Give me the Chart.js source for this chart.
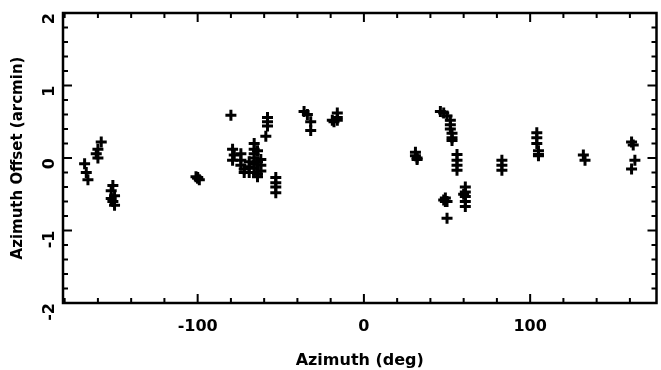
<!DOCTYPE html>
<html>
<head>
<meta charset="utf-8">
<script src="https://cdn.jsdelivr.net/npm/chart.js@4"></script>
<style>
  html, body { margin: 0; padding: 0; background: #fff; overflow: hidden; }
  #wrap { width: 661px; height: 370px; overflow: hidden; }
</style>
</head>
<body>
<div id="wrap"><canvas id="myChart" width="665" height="370"></canvas></div>
<script>
// azimuth (deg) and azimuth offset (arcmin) of each pointing measurement
const azimuth = [
  -168, -167, -166,
  -158, -160, -161, -160,
  -151, -152, -150, -152, -151, -150,
  -101, -100, -99, -100,
  -80,
  -79, -78, -79,
  -74, -74, -74, -72, -72,
  -69, -69, -69,
  -66, -66, -66, -66, -66, -66, -66,
  -64, -64, -64, -64,
  -62, -62, -62,
  -58, -58, -58, -59,
  -53, -53, -53, -53,
  -36, -34, -32, -32,
  -19, -18, -16, -16, -16,
  31, 31, 32, 32,
  46, 48, 50, 52, 52, 52, 53, 53, 53,
  49, 49, 50, 48, 50,
  56, 56, 56, 56,
  61, 61, 61, 61, 61, 60,
  83, 83, 83,
  104, 104, 104, 105, 105, 105,
  132, 133,
  161, 162, 163, 161
];
const offset = [
  -0.08, -0.2, -0.3,
  0.22, 0.12, 0.06, 0.0,
  -0.38, -0.45, -0.52, -0.56, -0.6, -0.65,
  -0.26, -0.28, -0.3, -0.27,
  0.59,
  0.12, 0.04, -0.03,
  0.06, -0.03, -0.1, -0.15, -0.2,
  -0.05, -0.12, -0.2,
  0.2, 0.12, 0.06, 0.0, -0.08, -0.14, -0.2,
  0.1, -0.05, -0.22, -0.26,
  -0.02, -0.1, -0.18,
  0.56, 0.5, 0.44, 0.3,
  -0.27, -0.34, -0.4, -0.48,
  0.64, 0.6, 0.5, 0.38,
  0.52, 0.5, 0.56, 0.62, 0.52,
  0.08, 0.03, 0.0, -0.02,
  0.64, 0.62, 0.58, 0.52, 0.46, 0.4, 0.34, 0.28, 0.24,
  -0.55, -0.6, -0.6, -0.58, -0.83,
  0.05, -0.03, -0.1, -0.17,
  -0.4, -0.47, -0.53, -0.6, -0.67, -0.5,
  -0.03, -0.1, -0.17,
  0.35, 0.28, 0.2, 0.1, 0.05, 0.03,
  0.04, -0.03,
  0.22, 0.18, -0.03, -0.15
];
const xTickLabels = [-100, 0, 100];
const yTickLabels = [-2, -1, 0, 1, 2];

const FONT = 'DejaVu Sans';

// box frame with inward tick marks on all four sides
const frame = {
  id: 'frame',
  afterDatasetsDraw(chart) {
    const { ctx, chartArea: a, scales: { x, y } } = chart;
    ctx.save();
    ctx.strokeStyle = '#000';
    ctx.lineWidth = 2;
    ctx.beginPath();
    for (let v = -180; v <= 180; v += 20) {
      if (v < x.min || v > x.max) continue;
      const px = x.getPixelForValue(v);
      const len = v % 100 === 0 ? 9 : 5;
      ctx.moveTo(px, a.bottom); ctx.lineTo(px, a.bottom - len);
      ctx.moveTo(px, a.top); ctx.lineTo(px, a.top + len);
    }
    for (let k = -10; k <= 10; k++) {
      const v = k / 5;
      const py = y.getPixelForValue(v);
      const len = k % 5 === 0 ? 9 : 5;
      ctx.moveTo(a.left, py); ctx.lineTo(a.left + len, py);
      ctx.moveTo(a.right, py); ctx.lineTo(a.right - len, py);
    }
    ctx.stroke();
    ctx.lineWidth = 2.5;
    ctx.strokeRect(a.left, a.top, a.right - a.left, a.bottom - a.top);
    ctx.restore();
  }
};

new Chart(document.getElementById('myChart'), {
  type: 'scatter',
  data: {
    datasets: [{
      data: azimuth.map((v, i) => ({ x: v, y: offset[i] })),
      pointStyle: 'cross',
      radius: 5.5,
      borderWidth: 3,
      borderColor: '#000',
      backgroundColor: '#000'
    }]
  },
  options: {
    responsive: false,
    animation: false,
    layout: { padding: { top: 13, right: 0, left: 0, bottom: 0 } },
    plugins: { legend: { display: false }, tooltip: { enabled: false } },
    scales: {
      x: {
        type: 'linear',
        min: -181,
        max: 176,
        afterBuildTicks: s => { s.ticks = xTickLabels.map(v => ({ value: v })); },
        afterFit: s => { s.height = 67; s.paddingLeft = 0; s.paddingRight = 0; },
        grid: { display: false, drawTicks: false },
        border: { display: false },
        ticks: {
          color: '#000',
          padding: 14,
          maxRotation: 0,
          font: { family: FONT, size: 16, weight: 'bold' }
        },
        title: {
          display: true,
          text: 'Azimuth (deg)',
          color: '#000',
          padding: { top: 7, bottom: 0 },
          font: { family: FONT, size: 16, weight: 'bold' }
        }
      },
      y: {
        type: 'linear',
        min: -2,
        max: 2,
        afterBuildTicks: s => { s.ticks = yTickLabels.map(v => ({ value: v })); },
        afterFit: s => { s.width = 63; s.paddingTop = 0; s.paddingBottom = 0; },
        grid: { display: false, drawTicks: false },
        border: { display: false },
        ticks: {
          color: '#000',
          padding: 13,
          minRotation: 90,
          maxRotation: 90,
          font: { family: FONT, size: 16, weight: 'bold' }
        },
        title: {
          display: true,
          text: 'Azimuth Offset (arcmin)',
          color: '#000',
          padding: { top: 9, bottom: 0 },
          font: { family: FONT, size: 15, weight: 'bold' }
        }
      }
    }
  },
  plugins: [frame]
});
</script>
</body>
</html>
